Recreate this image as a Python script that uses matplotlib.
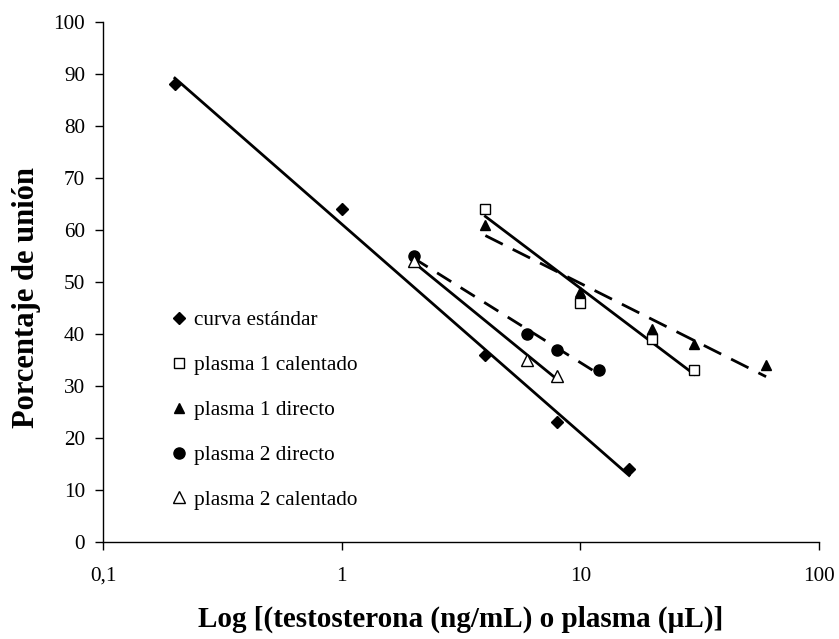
import numpy as np
import matplotlib
matplotlib.use("Agg")
import matplotlib.pyplot as plt
from matplotlib.lines import Line2D

plt.rcParams['font.family'] = ['Liberation Serif', 'DejaVu Serif']

# binding (%) vs log dose for each series
std_x = [0.2, 1, 4, 8, 16]
std_y = [88, 64, 36, 23, 14]

p1_cal_x = [4, 10, 20, 30]
p1_cal_y = [64, 46, 39, 33]

p1_dir_x = [4, 10, 20, 30, 60]
p1_dir_y = [61, 48, 41, 38, 34]

p2_dir_x = [2, 6, 8, 12]
p2_dir_y = [55, 40, 37, 33]

p2_cal_x = [2, 6, 8]
p2_cal_y = [54, 35, 32]

x_ticks = [0.1, 1, 10, 100]
x_tick_labels = ['0,1', '1', '10', '100']
y_ticks = list(range(0, 101, 10))


def log_trend(ax, xs, ys, **kw):
    # least squares line on log10(x), drawn over the range of the data
    lx = np.log10(xs)
    b, a = np.polyfit(lx, ys, 1)
    xx = np.logspace(lx.min(), lx.max(), 50)
    ax.plot(xx, a + b * np.log10(xx), color='black', lw=2, zorder=2, **kw)


fig = plt.figure(figsize=(8.39, 6.39), dpi=100)
ax = fig.add_axes([0.1228, 0.1518, 0.8534, 0.8138])

log_trend(ax, std_x, std_y)
log_trend(ax, p1_cal_x, p1_cal_y)
log_trend(ax, p1_dir_x, p1_dir_y, linestyle=(0, (7, 4)))
log_trend(ax, p2_dir_x, p2_dir_y, linestyle=(0, (6, 4)))
log_trend(ax, p2_cal_x, p2_cal_y)

ax.plot(std_x, std_y, 'D', ms=6.3, color='black', zorder=3)
ax.plot(p1_cal_x, p1_cal_y, 's', ms=7, mfc='white', mec='black', mew=1, zorder=3)
ax.plot(p1_dir_x, p1_dir_y, '^', ms=7.5, color='black', zorder=3)
ax.plot(p2_dir_x, p2_dir_y, 'o', ms=8, color='black', zorder=3)
ax.plot(p2_cal_x, p2_cal_y, '^', ms=8, mfc='white', mec='black', mew=1, zorder=3)

ax.set_xscale('log')
ax.set_xlim(0.1, 100)
ax.set_ylim(0, 100)
ax.set_xticks(x_ticks)
ax.set_xticklabels(x_tick_labels)
ax.xaxis.set_minor_locator(matplotlib.ticker.NullLocator())
ax.set_yticks(y_ticks)
ax.tick_params(labelsize=15.3, direction='out', length=6, width=1)
ax.tick_params(axis='x', pad=12)
ax.tick_params(axis='y', pad=7)

for s in ['top', 'right']:
    ax.spines[s].set_visible(False)
for s in ['left', 'bottom']:
    ax.spines[s].set_linewidth(1)

ax.set_xlabel('Log [(testosterona (ng/mL) o plasma (µL)]', fontsize=21, fontweight='bold', labelpad=14)
ax.set_ylabel('Porcentaje de unión', fontsize=22, fontweight='bold', labelpad=9, y=0.47)

handles = [
    Line2D([], [], marker='D', ls='none', ms=6.3, color='black'),
    Line2D([], [], marker='s', ls='none', ms=7, mfc='white', mec='black'),
    Line2D([], [], marker='^', ls='none', ms=7.5, color='black'),
    Line2D([], [], marker='o', ls='none', ms=8, color='black'),
    Line2D([], [], marker='^', ls='none', ms=8, mfc='white', mec='black'),
]
labels = ['curva estándar', 'plasma 1 calentado', 'plasma 1 directo',
          'plasma 2 directo', 'plasma 2 calentado']
ax.legend(handles, labels, loc='upper left', bbox_to_anchor=(0.086, 0.462),
          frameon=False, fontsize=15.3, handlelength=0.6, handletextpad=0.4,
          labelspacing=1.18, borderaxespad=0)

fig.savefig('out.png', dpi=100)
